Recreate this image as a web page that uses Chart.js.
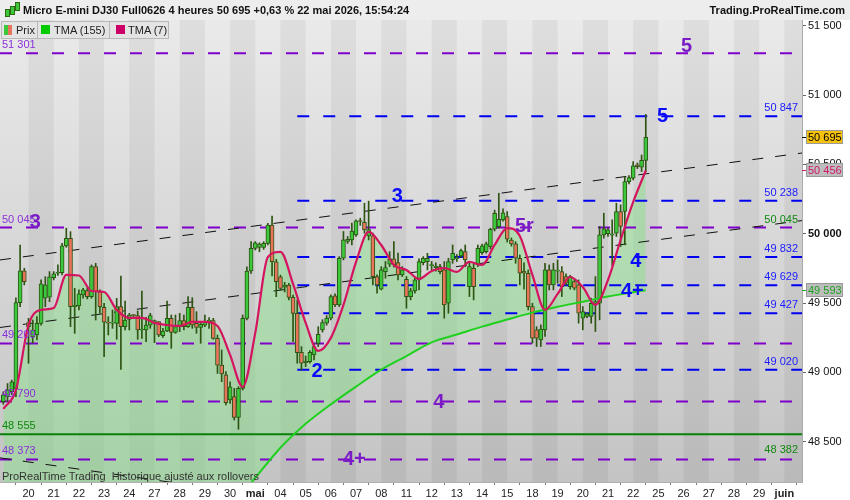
<!DOCTYPE html>
<html>
<head>
<meta charset="utf-8">
<script src="https://cdn.jsdelivr.net/npm/chart.js@4.4.1/dist/chart.umd.min.js"></script>
<style>
body { margin: 0; background: #fff; font-family: "Liberation Sans", Arial, sans-serif; }
#wrap { position: relative; width: 850px; height: 500px; overflow: hidden; }
#c { position: absolute; left: 0; top: 0; }
#title { position: absolute; left: 0; top: 0; width: 850px; height: 20px; background: #ededed;
  font-size: 11px; font-weight: bold; color: #111; line-height: 21px; white-space: pre; }
#title .t { position: absolute; left: 23px; top: 0; }
#title .r { position: absolute; right: 5px; top: 0; }
.ico { position: absolute; top: 3px; width: 3px; background: #3cc83c; border: 1px solid #2d6a12; }
.lg { position: absolute; top: 21px; height: 18px; box-sizing: border-box; border: 1px solid #b8b8b8;
  background: #e4e4e4; font-size: 11px; line-height: 16px; color: #222; white-space: pre; }
.lg .tx { position: absolute; top: 0; }
.sq { position: absolute; top: 3px; width: 9px; height: 9px; }
#foot { position: absolute; left: 2px; top: 470px; font-size: 11px; color: #333; white-space: pre; }
</style>
</head>
<body>
<div id="wrap">
  <canvas id="c" width="850" height="500"></canvas>
  <div id="title">
    <span class="ico" style="left:5px;top:9px;height:6px"></span>
    <span class="ico" style="left:10px;top:6px;height:7px"></span>
    <span class="ico" style="left:15px;top:2px;height:7px"></span>
    <span class="t">Micro E-mini DJ30 Full0626 4 heures 50 695 +0,63 % 22 mai 2026, 15:54:24</span>
    <span class="r">Trading.ProRealTime.com</span>
  </div>
  <div class="lg" style="left:1px;width:37px">
    <span class="sq" style="left:2px;top:3px;width:4px;height:10px;background:#3cc83c"></span>
    <span class="sq" style="left:6px;top:3px;width:4px;height:10px;background:#e8745c"></span>
    <span class="tx" style="left:14px">Prix</span>
  </div>
  <div class="lg" style="left:37px;width:73px">
    <span class="sq" style="left:3px;background:#00cc00"></span>
    <span class="tx" style="left:16px">TMA (155)</span>
  </div>
  <div class="lg" style="left:109px;width:60px">
    <span class="sq" style="left:6px;background:#cc0066"></span>
    <span class="tx" style="left:18px">TMA (7)</span>
  </div>
  <div id="foot">ProRealTime Trading  Historique ajusté aux rollovers</div>
</div>
<script>
// jours de cotation (1 tick = premiere bougie 4h du jour)
const dayLabels = ['20','21','22','23','24','27','28','29','30','mai','04','05','06','07','08',
  '11','12','13','14','15','18','19','20','21','22','25','26','27','28','29','juin'];
const yTicks = [48500, 49000, 49500, 50000, 50500, 51000, 51500];

// bougies 4 heures (index 0 = 17 avril 16h)
const opens = [48790,48824,48861,48880,49503,49732,49360,49256,49270,49354,
  49535,49542,49683,49715,49719,49912,49967,49474,49480,49559,
  49590,49546,49763,49582,49470,49362,49355,49354,49474,49330,
  49383,49412,49409,49306,49306,49340,49354,49366,49265,49299,
  49390,49289,49330,49373,49330,49469,49354,49325,49340,49366,
  49373,49246,49053,48982,48801,48825,48676,48885,49390,49731,
  49895,49902,49902,49931,50063,49798,49690,49614,49630,49541,
  49426,49145,49070,49078,49126,49210,49307,49355,49391,49552,
  49487,49823,49944,49956,49992,50090,50083,49985,49984,49691,
  49600,49727,49780,49819,49792,49703,49672,49547,49588,49667,
  49792,49799,49770,49755,49763,49739,49499,49811,49820,49840,
  49871,49619,49751,49775,49864,49871,49907,50032,50051,50100,
  50124,49955,49927,49823,49730,49715,49475,49307,49235,49307,
  49739,49631,49730,49727,49691,49619,49655,49631,49391,49403,
  49403,49499,49499,49992,50000,49990,50004,50160,50160,50376,
  50400,50496,50480,50528];
const highs = [48860,48920,48945,49537,49919,49751,49390,49378,49402,49667,
  49690,49727,49727,49775,49931,50040,50015,49607,49595,49607,
  49610,49775,49787,49595,49498,49402,49450,49534,49695,49515,
  49426,49419,49443,49587,49397,49426,49378,49366,49318,49515,
  49414,49414,49426,49414,49546,49539,49438,49359,49414,49395,
  49390,49270,49162,49006,48933,48885,48897,49414,49762,49943,
  49943,49935,49943,50075,50128,49815,49702,49650,49642,49558,
  49522,49186,49118,49157,49210,49330,49380,49410,49560,49566,
  49835,50016,49980,50076,50100,50112,50220,50235,50004,49703,
  49763,49800,49871,49944,49860,49763,49691,49607,49679,49819,
  49835,49859,49800,49790,49780,49799,49823,49919,49850,49890,
  49919,49787,49787,49919,49925,49940,50040,50170,50292,50180,
  50160,49970,49943,49847,49790,49739,49499,49330,49343,49787,
  49775,49787,49811,49763,49710,49700,49670,49667,49475,49430,
  49535,49691,50052,50148,50040,50100,50220,50208,50412,50420,
  50520,50510,50568,50860];
const lows = [48770,48790,48840,48825,49474,49631,49066,49212,49234,49340,
  49474,49510,49667,49700,49703,49902,49330,49282,49450,49535,
  49530,49535,49378,49427,49114,49270,49318,49239,49022,49306,
  49306,49390,49239,49246,49222,49318,49215,49258,49253,49294,
  49174,49282,49294,49306,49325,49318,49282,49210,49330,49318,
  49239,48993,48933,48765,48777,48657,48590,48873,49378,49714,
  49883,49870,49887,49919,49695,49546,49594,49580,49522,49222,
  49066,49018,49042,49066,49090,49186,49290,49340,49379,49475,
  49475,49811,49930,49920,49980,50060,50004,49955,49631,49571,
  49595,49679,49763,49759,49667,49691,49463,49523,49571,49595,
  49775,49739,49740,49730,49710,49391,49427,49787,49800,49830,
  49763,49547,49523,49763,49850,49860,49890,50020,50040,50090,
  49940,49910,49787,49631,49600,49451,49211,49187,49187,49259,
  49595,49595,49643,49547,49630,49600,49595,49355,49307,49395,
  49355,49295,49379,49968,49980,49770,49980,49908,49920,50360,
  50388,50470,50448,50448];
const closes = [48838,48874,48933,49503,49732,49655,49330,49305,49354,49638,
  49631,49690,49710,49722,49912,49967,49474,49485,49566,49595,
  49546,49763,49582,49474,49362,49355,49362,49474,49330,49378,
  49414,49409,49306,49312,49342,49409,49373,49270,49299,49390,
  49289,49330,49373,49330,49469,49342,49325,49347,49366,49378,
  49246,49053,48989,48782,48897,48676,48885,49390,49731,49895,
  49935,49926,49931,50063,49798,49654,49606,49630,49541,49426,
  49142,49066,49080,49145,49186,49275,49360,49391,49547,49487,
  49823,49956,49960,50020,50093,50088,50028,50030,49691,49631,
  49739,49756,49819,49775,49703,49739,49547,49588,49667,49799,
  49823,49823,49778,49765,49727,49487,49799,49859,49826,49879,
  49811,49763,49619,49895,49912,49927,50032,50148,50104,50150,
  49960,49927,49823,49715,49715,49475,49247,49247,49312,49739,
  49631,49739,49735,49619,49643,49691,49607,49427,49439,49422,
  49499,49511,49992,50036,50028,50000,50160,50052,50376,50405,
  50490,50484,50530,50695];

// moyennes mobiles
const tma7Idx = [0,3,6,9,12,15,18,21,24,27,30,33,36,39,42,45,48,51,54,57,60,63,66,69,72,75,
  78,81,84,87,90,93,96,99,102,105,108,111,114,117,120,123,126,129,132,135,138,141,144,147,150,153];
const tma7Val = [48737,48874,49342,49451,49465,49703,49699,49587,49580,49451,49393,49393,49357,
  49342,49335,49364,49364,49335,49126,48895,49285,49832,49869,49638,49357,49155,49249,49487,
  49797,50013,49919,49775,49739,49674,49732,49753,49725,49797,49775,49919,50041,49984,49703,
  49451,49566,49688,49616,49487,49667,49955,50229,50456];
const tma155Idx = [0,12,24,36,48,54,60,66,72,78,84,90,96,102,108,114,120,126,132,138,144,150,153];
const tma155Val = [45900,46400,46900,47400,47820,48030,48240,48457,48630,48770,48898,49020,
  49118,49217,49273,49330,49381,49431,49473,49510,49547,49578,49593];

// niveaux horizontaux
const purpleLevels = [51301, 50045, 49209, 48790, 48373];
const blueLevels = [50847, 50238, 49832, 49629, 49427, 49020];
const greenLevels = [48555];
const greenRightTags = [50045, 48382];
const blueStart = 70;

// lignes de tendance (debut, fin) en valeurs
const trendLines = [[49811, 50582], [49324, 50095], [48384, 47558]];

// etiquettes de vagues
const waveText = ['5', '3', '5r', '4', '4+', '5', '3', '4', '4+', '2'];
const waveIdx = [162.7, 7.6, 124.1, 103.7, 83.6, 157, 93.8, 150.6, 149.8, 74.7];
const waveVal = [51347, 50078, 50051, 48782, 48369, 50844, 50267, 49799, 49582, 49006];
const waveBlue = [false, false, false, false, false, true, true, true, true, true];

const X_MIN = -0.79, X_MAX = 190.2;
const PURPLE = '#7f00cc', BLUE = '#0000f0';

function fmt(v) { return String(v).replace(/\B(?=(\d{3})+(?!\d))/g, ' '); }

function hline(v, color, from, dash, width) {
  return { type: 'line', data: [{x: from, y: v}, {x: X_MAX, y: v}], borderColor: color,
    borderWidth: width, borderDash: dash, pointRadius: 0, fill: false, order: 5 };
}

const datasets = [];
datasets.push({
  type: 'line', label: 'TMA (7)', data: tma7Idx.map((x, k) => ({x: x, y: tma7Val[k]})),
  borderColor: '#d4145f', borderWidth: 2.2, pointRadius: 0, cubicInterpolationMode: 'monotone',
  fill: {target: 1, above: 'rgba(140,225,140,0.5)', below: 'rgba(0,0,0,0)'}, order: 0
});
datasets.push({
  type: 'line', label: 'TMA (155)', data: tma155Idx.map((x, k) => ({x: x, y: tma155Val[k]})),
  borderColor: '#1fd01f', borderWidth: 2, pointRadius: 0, cubicInterpolationMode: 'monotone',
  fill: false, order: 1
});
datasets.push({
  type: 'bar', label: 'wick', data: highs.map((h, i) => ({x: i, y: [lows[i], h]})),
  backgroundColor: '#2d5412', barThickness: 1, grouped: false, order: 3
});
datasets.push({
  type: 'bar', label: 'body', data: opens.map((o, i) => ({x: i, y: [o, closes[i]]})),
  backgroundColor: opens.map((o, i) => closes[i] >= o ? '#3cc83c' : '#e8745c'),
  borderColor: '#2d5412', borderWidth: 1, borderSkipped: false, barThickness: 4,
  minBarLength: 1, grouped: false, order: 2
});
purpleLevels.forEach(v => datasets.push(hline(v, PURPLE, X_MIN, [12, 14], 2)));
blueLevels.forEach(v => datasets.push(hline(v, BLUE, blueStart, [12, 14], 2)));
greenLevels.forEach(v => datasets.push(hline(v, '#0a800a', X_MIN, [], 2)));
trendLines.forEach(t => datasets.push({
  type: 'line', data: [{x: X_MIN, y: t[0]}, {x: X_MAX, y: t[1]}], borderColor: '#111',
  borderWidth: 1, borderDash: [11, 12], pointRadius: 0, fill: false, order: 4
}));

const bgPlugin = {
  id: 'bg',
  beforeDraw(chart) {
    const ctx = chart.ctx, a = chart.chartArea, x = chart.scales.x;
    ctx.save();
    ctx.fillStyle = '#fff';
    ctx.fillRect(0, 0, chart.width, chart.height);
    const g = ctx.createLinearGradient(0, a.top, 0, a.bottom);
    g.addColorStop(0, '#eaeaea');
    g.addColorStop(1, '#c4c4c4');
    ctx.fillStyle = g;
    ctx.fillRect(a.left, a.top, a.width, a.height);
    ctx.fillStyle = 'rgba(0,0,0,0.05)';
    for (let k = 0; k < dayLabels.length; k += 2) {
      const x0 = Math.max(a.left, x.getPixelForValue(6 + 6 * k));
      const x1 = Math.min(a.right, x.getPixelForValue(12 + 6 * k));
      if (x1 > x0) ctx.fillRect(x0, a.top, x1 - x0, a.height);
    }
    ctx.restore();
  }
};

const notesPlugin = {
  id: 'notes',
  afterDraw(chart) {
    const ctx = chart.ctx, a = chart.chartArea, x = chart.scales.x, y = chart.scales.y;
    ctx.save();
    ctx.beginPath();
    ctx.rect(a.left, a.top, a.width, a.height);
    ctx.clip();
    ctx.font = '11px "Liberation Sans", Arial, sans-serif';
    ctx.textBaseline = 'middle';
    ctx.textAlign = 'left';
    ctx.fillStyle = '#8a30d8';
    purpleLevels.forEach(v => ctx.fillText(fmt(v), 2, y.getPixelForValue(v) - 8));
    ctx.fillStyle = '#118811';
    greenLevels.forEach(v => ctx.fillText(fmt(v), 2, y.getPixelForValue(v) - 8));
    ctx.textAlign = 'right';
    ctx.fillStyle = '#1a1aff';
    blueLevels.forEach(v => ctx.fillText(fmt(v), a.right - 4, y.getPixelForValue(v) - 8));
    ctx.fillStyle = '#118811';
    greenRightTags.forEach(v => ctx.fillText(fmt(v), a.right - 4, y.getPixelForValue(v) - 8));
    ctx.textAlign = 'center';
    ctx.font = 'bold 20px "Liberation Sans", Arial, sans-serif';
    waveText.forEach((t, k) => {
      ctx.fillStyle = waveBlue[k] ? '#0a0aff' : '#7a1cc6';
      ctx.fillText(t, x.getPixelForValue(waveIdx[k]), y.getPixelForValue(waveVal[k]));
    });
    ctx.restore();

    // etiquettes de prix sur l'axe
    const tags = [
      {v: tma155Val[tma155Val.length - 1], bg: '#bdbdbd', fg: '#1fa21f'},
      {v: tma7Val[tma7Val.length - 1], bg: '#bdbdbd', fg: '#d0186a'},
      {v: closes[closes.length - 1], bg: '#f4c20d', fg: '#000'}
    ];
    ctx.save();
    ctx.font = '11px "Liberation Sans", Arial, sans-serif';
    ctx.textBaseline = 'middle';
    ctx.textAlign = 'left';
    tags.forEach(t => {
      const py = Math.round(y.getPixelForValue(t.v));
      ctx.fillStyle = t.bg;
      ctx.fillRect(806, py - 7, 37, 14);
      ctx.strokeStyle = '#999';
      ctx.lineWidth = 1;
      ctx.strokeRect(806.5, py - 6.5, 36, 13);
      ctx.strokeStyle = t.fg;
      ctx.beginPath();
      ctx.moveTo(a.right, py + 0.5);
      ctx.lineTo(806, py + 0.5);
      ctx.stroke();
      ctx.fillStyle = t.fg;
      ctx.fillText(fmt(t.v), 808, py + 0.5);
    });
    ctx.restore();
  }
};

Chart.defaults.font.family = '"Liberation Sans", Arial, sans-serif';
Chart.defaults.font.size = 11;

new Chart(document.getElementById('c'), {
  type: 'bar',
  data: { datasets: datasets },
  options: {
    responsive: false,
    animation: false,
    layout: { padding: { top: 20, left: 0, right: 0, bottom: 0 } },
    plugins: {
      legend: { display: false },
      tooltip: { enabled: false },
      filler: { drawTime: 'beforeDatasetsDraw' }
    },
    scales: {
      x: {
        type: 'linear', position: 'bottom', min: X_MIN, max: X_MAX, offset: false,
        grid: { drawOnChartArea: false, tickLength: 3, color: '#777' },
        border: { color: '#b0b0b0' },
        afterBuildTicks: s => { s.ticks = dayLabels.map((d, k) => ({value: 6 + 6 * k})); },
        afterFit: s => { s.height = 18; },
        ticks: {
          autoSkip: false, maxRotation: 0, padding: 2, color: '#222',
          callback: (v, i) => dayLabels[i],
          font: c => ({ size: 11, weight: (c.index !== undefined &&
            (dayLabels[c.index] === 'mai' || dayLabels[c.index] === 'juin')) ? 'bold' : 'normal' })
        }
      },
      y: {
        type: 'linear', position: 'right', min: 48210, max: 51541,
        grid: { drawOnChartArea: false, tickLength: 4, color: '#666' },
        border: { color: '#aaa' },
        afterBuildTicks: s => { s.ticks = yTicks.map(v => ({value: v})); },
        afterFit: s => { s.width = 48; },
        ticks: {
          padding: 2, color: '#111',
          callback: v => fmt(v),
          font: c => ({ size: 11, weight: (c.tick && c.tick.value === 50000) ? 'bold' : 'normal' })
        }
      }
    }
  },
  plugins: [bgPlugin, notesPlugin]
});
</script>
</body>
</html>
